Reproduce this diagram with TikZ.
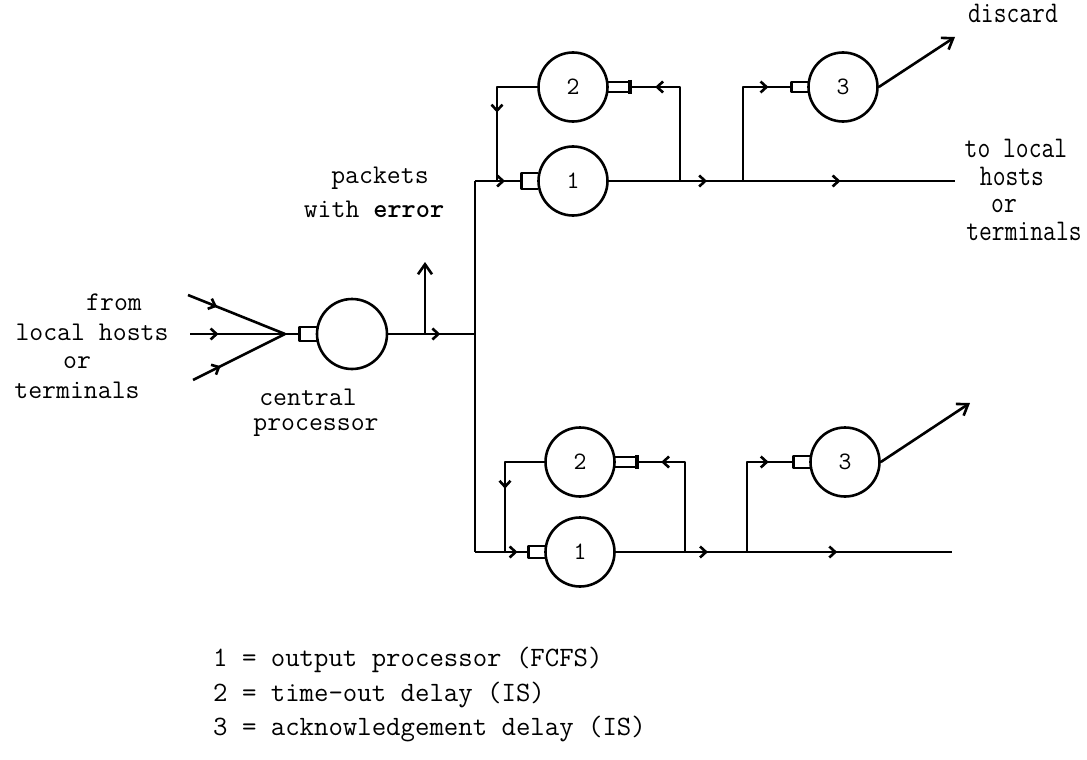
\documentclass[tikz,border=0pt]{standalone}
\usepackage{graphicx}
\usetikzlibrary{arrows.meta,decorations.markings}

\tikzset{
  wire/.style={line width=2.6pt},
  proc/.style={circle,draw,line width=2.6pt,minimum size=69pt,inner sep=0pt,
    font=\ttfamily\fontsize{25}{29}\selectfont},
  txt/.style={inner sep=0pt,anchor=base,font=\ttfamily\fontsize{27}{31}\selectfont},
  thintxt/.style={inner sep=0pt,anchor=base,font=\ttfamily\fontsize{30}{34}\selectfont},
  key/.style={inner sep=0pt,anchor=base west,font=\ttfamily\fontsize{28}{34}\selectfont},
  flow/.style={postaction={decorate,decoration={markings,
    mark=at position #1 with {\arrow{Straight Barb[length=6pt,width=11pt]}}}}},
  outtip/.style={-{Straight Barb[length=10pt,width=14pt]}},
}

% Narrow typewriter face used on the right-hand labels.
\newcommand{\narrow}[1]{\scalebox{.83}[1]{#1}}

% Queue box opening onto a server from the left; half height #2.
\newcommand{\leftq}[2]{%
  \draw[wire] ([shift={(1,-#2)}]#1.west) -- ++(-17,0) -- ++(0,2*#2) -- ++(17,0);
  \coordinate (#1-q) at ([xshift=-16pt]#1.west);
}
% Queue box opening onto a server from the right, closed by a bar.
\newcommand{\rightq}[1]{%
  \draw[wire] ([shift={(-1,-5)}]#1.east) -- ++(21,0);
  \draw[wire] ([shift={(-1,5)}]#1.east) -- ++(21,0);
  \draw[line width=4pt] ([shift={(21,-7)}]#1.east) -- ++(0,14);
  \coordinate (#1-q) at ([xshift=22pt]#1.east);
}

\begin{document}
\begin{tikzpicture}[x=1pt,y=-1pt,line join=round]
  % Match the scanned page frame.
  \useasboundingbox (0,0) rectangle (1087,760);

  % Central processor and its inputs.
  \node[proc,minimum size=70pt] (cp) at (352,334) {};
  \leftq{cp}{7}
  \coordinate (conv) at (285,334);
  \coordinate (in1) at (188,295);
  \coordinate (in2) at (190,334);
  \coordinate (in3) at (193,380);

  % Junctions on the distribution bus.
  \coordinate (errjn) at (425,334);
  \coordinate (errtip) at (425,262);
  \coordinate (busmid) at (475,334);
  \coordinate (bustop) at (475,181);
  \coordinate (busbot) at (475,552);

  % Upper output line.
  \node[proc] (out1t) at (573,181) {1};
  \node[proc] (delay2t) at (573,87) {2};
  \node[proc] (ack3t) at (843,87) {3};
  \leftq{out1t}{8}
  \rightq{delay2t}
  \leftq{ack3t}{5}
  \coordinate (fblt) at (497,181);
  \coordinate (fbrt) at (680,181);
  \coordinate (ackt) at (743,181);
  \coordinate (endt) at (955,181);
  \coordinate (disct) at (955,37);

  % Lower output line.
  \node[proc] (out1b) at (580,552) {1};
  \node[proc] (delay2b) at (580,462) {2};
  \node[proc] (ack3b) at (845,462) {3};
  \leftq{out1b}{6}
  \rightq{delay2b}
  \leftq{ack3b}{6}
  \coordinate (fblb) at (505,552);
  \coordinate (fbrb) at (685,552);
  \coordinate (ackb) at (747,552);
  \coordinate (endb) at (952,552);
  \coordinate (discb) at (970,403);

  % Arrivals and central processor output.
  \foreach \src in {in1,in2,in3}
    \draw[wire,flow=.3] (\src) -- (conv);
  \draw[wire] (conv) -- (cp-q);
  \draw[wire,flow=.6] (cp) -- (busmid);
  \draw[wire,outtip] (errjn) -- (errtip);
  \draw[wire] (bustop) -- (busbot);

  % Upper line connectors.
  \draw[wire,flow=.65] (bustop) -- (out1t-q);
  \draw[wire,flow=.49] (delay2t) -| (fblt);
  \draw[wire,flow=.83] (fbrt) |- (delay2t-q);
  \draw[wire] (out1t) -- (fbrt);
  \draw[wire,flow=.43] (fbrt) -- (ackt);
  \draw[wire,flow=.46] (ackt) -- (endt);
  \draw[wire,flow=.84] (ackt) |- (ack3t-q);
  \draw[wire,outtip] (ack3t.east) -- (disct);

  % Lower line connectors.
  \draw[wire,flow=.8] (busbot) -- (out1b-q);
  \draw[wire,flow=.51] (delay2b) -| (fblb);
  \draw[wire,flow=.83] (fbrb) |- (delay2b-q);
  \draw[wire] (out1b) -- (fbrb);
  \draw[wire,flow=.37] (fbrb) -- (ackb);
  \draw[wire,flow=.44] (ackb) -- (endb);
  \draw[wire,flow=.82] (ackb) |- (ack3b-q);
  \draw[wire,outtip] (ack3b.east) -- (discb);

  % Labels.
  \node[txt] (from1) at (114,310) {from};
  \node[txt] (from2) at (92,340) {local hosts};
  \node[txt] (from3) at (77,368) {or};
  \node[txt] (from4) at (77,398) {terminals};
  \node[txt] (cpname1) at (308,405) {central};
  \node[txt] (cpname2) at (316,430) {processor};
  \node[txt] (pkt1) at (380,183) {packets};
  \node[txt] (pkt2) at (374,217) {with \textbf{error}};
  \node[thintxt] (disc) at (1013,23) {\narrow{discard}};
  \node[thintxt] (to1) at (1016,157) {\narrow{to local}};
  \node[thintxt] (to2) at (1012,185) {\narrow{hosts}};
  \node[thintxt] (to3) at (1004,212) {\narrow{or}};
  \node[thintxt] (to4) at (1024,240) {\narrow{terminals}};

  % Legend.
  \node[key] (key1) at (213,666) {1 = output processor (FCFS)};
  \node[key] (key2) at (213,701) {2 = time-out delay (IS)};
  \node[key] (key3) at (213,735) {3 = acknowledgement delay (IS)};
\end{tikzpicture}
\end{document}
